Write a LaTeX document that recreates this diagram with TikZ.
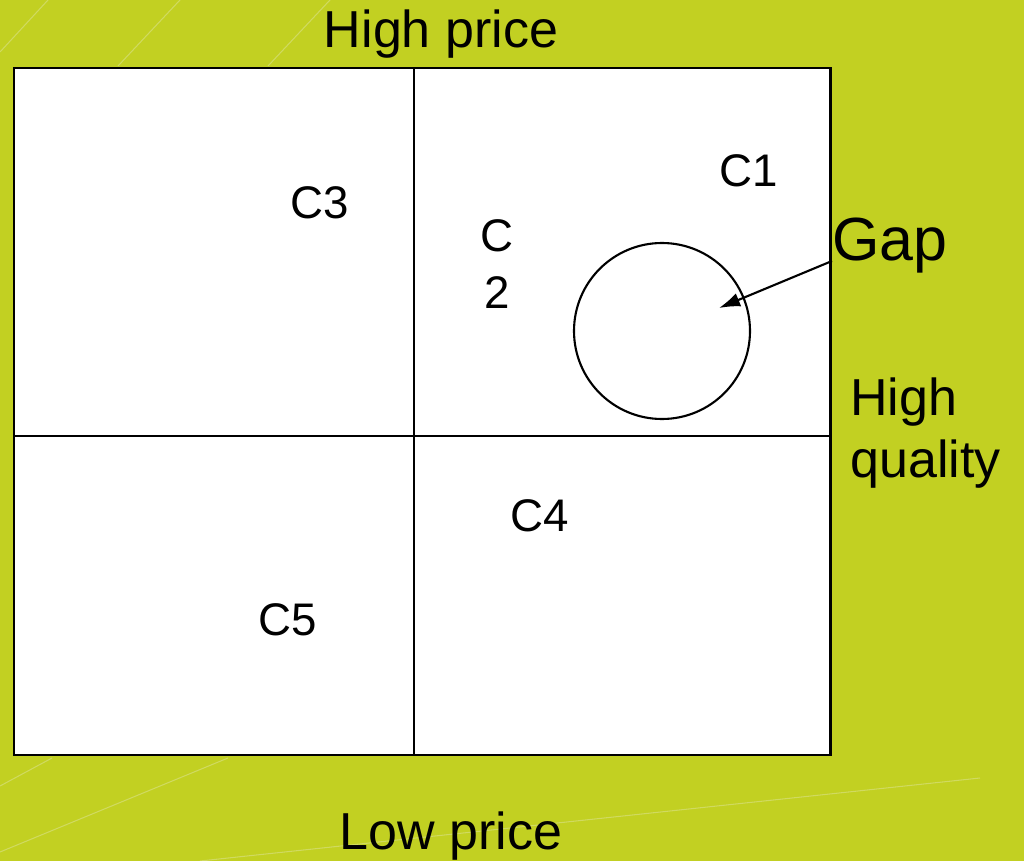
\documentclass[tikz,border=0pt]{standalone}
\usepackage{fontspec}
\setmainfont{Liberation Sans}
\usepackage{tikz}
\usetikzlibrary{arrows.meta}
\definecolor{FondoVerde}{RGB}{194,208,34}
\definecolor{RayaClara}{RGB}{208,218,96}

\begin{document}
\begin{tikzpicture}[x=0.02cm, y=-0.02cm, >={Latex[length=12pt,width=8pt]},
    celda/.style={fill=white, draw=black, line width=1.7pt},
    etiq/.style={font=\fontsize{26}{31}\selectfont, inner sep=0pt},
    eje/.style={font=\fontsize{29.6}{34}\selectfont, inner sep=0pt}]
    \fill[FondoVerde] (0,0) rectangle (1024,861);
    \useasboundingbox (0,0) rectangle (1024,861);
    \draw[RayaClara, line width=0.6pt] (0,52) -- (48,0);
    \draw[RayaClara, line width=0.6pt] (118,66) -- (180,0);
    \draw[RayaClara, line width=0.6pt] (268,66) -- (330,0);
    \draw[RayaClara, line width=0.6pt] (0,786) -- (52,758);
    \draw[RayaClara, line width=0.6pt] (0,852) -- (228,758);
    \draw[RayaClara, line width=0.6pt] (200,861) -- (980,778);

    \draw[celda] (14,68) rectangle (830,755);
    \draw[line width=1.6pt] (414,68) -- (414,755);
    \draw[line width=1.6pt] (14,436) -- (830,436);
    \draw[line width=1.2pt] (662,331) circle (88);

    \node[eje, anchor=base] (alto) at (441,48) {High price};
    \node[eje, anchor=base] (bajo) at (451,849) {Low price};
    \node[eje, anchor=base west, align=left] (calidad) at (850,477) {High\\[1pt]quality};
    \node[font=\fontsize{34.7}{40}\selectfont, inner sep=0pt, anchor=base west] (gap) at (832,261) {Gap};

    \node[etiq] (c1) at (749,171) {C1};
    \node[etiq, anchor=base, align=center] (c2) at (497,309) {C\\[2pt]2};
    \node[etiq] (c3) at (320,203) {C3};
    \node[etiq] (c4) at (540,516) {C4};
    \node[etiq] (c5) at (288,620) {C5};

    \coordinate (hueco) at (719,308);
    \draw[->, line width=1.2pt] (gap.base west) -- (hueco);
\end{tikzpicture}
\end{document}
